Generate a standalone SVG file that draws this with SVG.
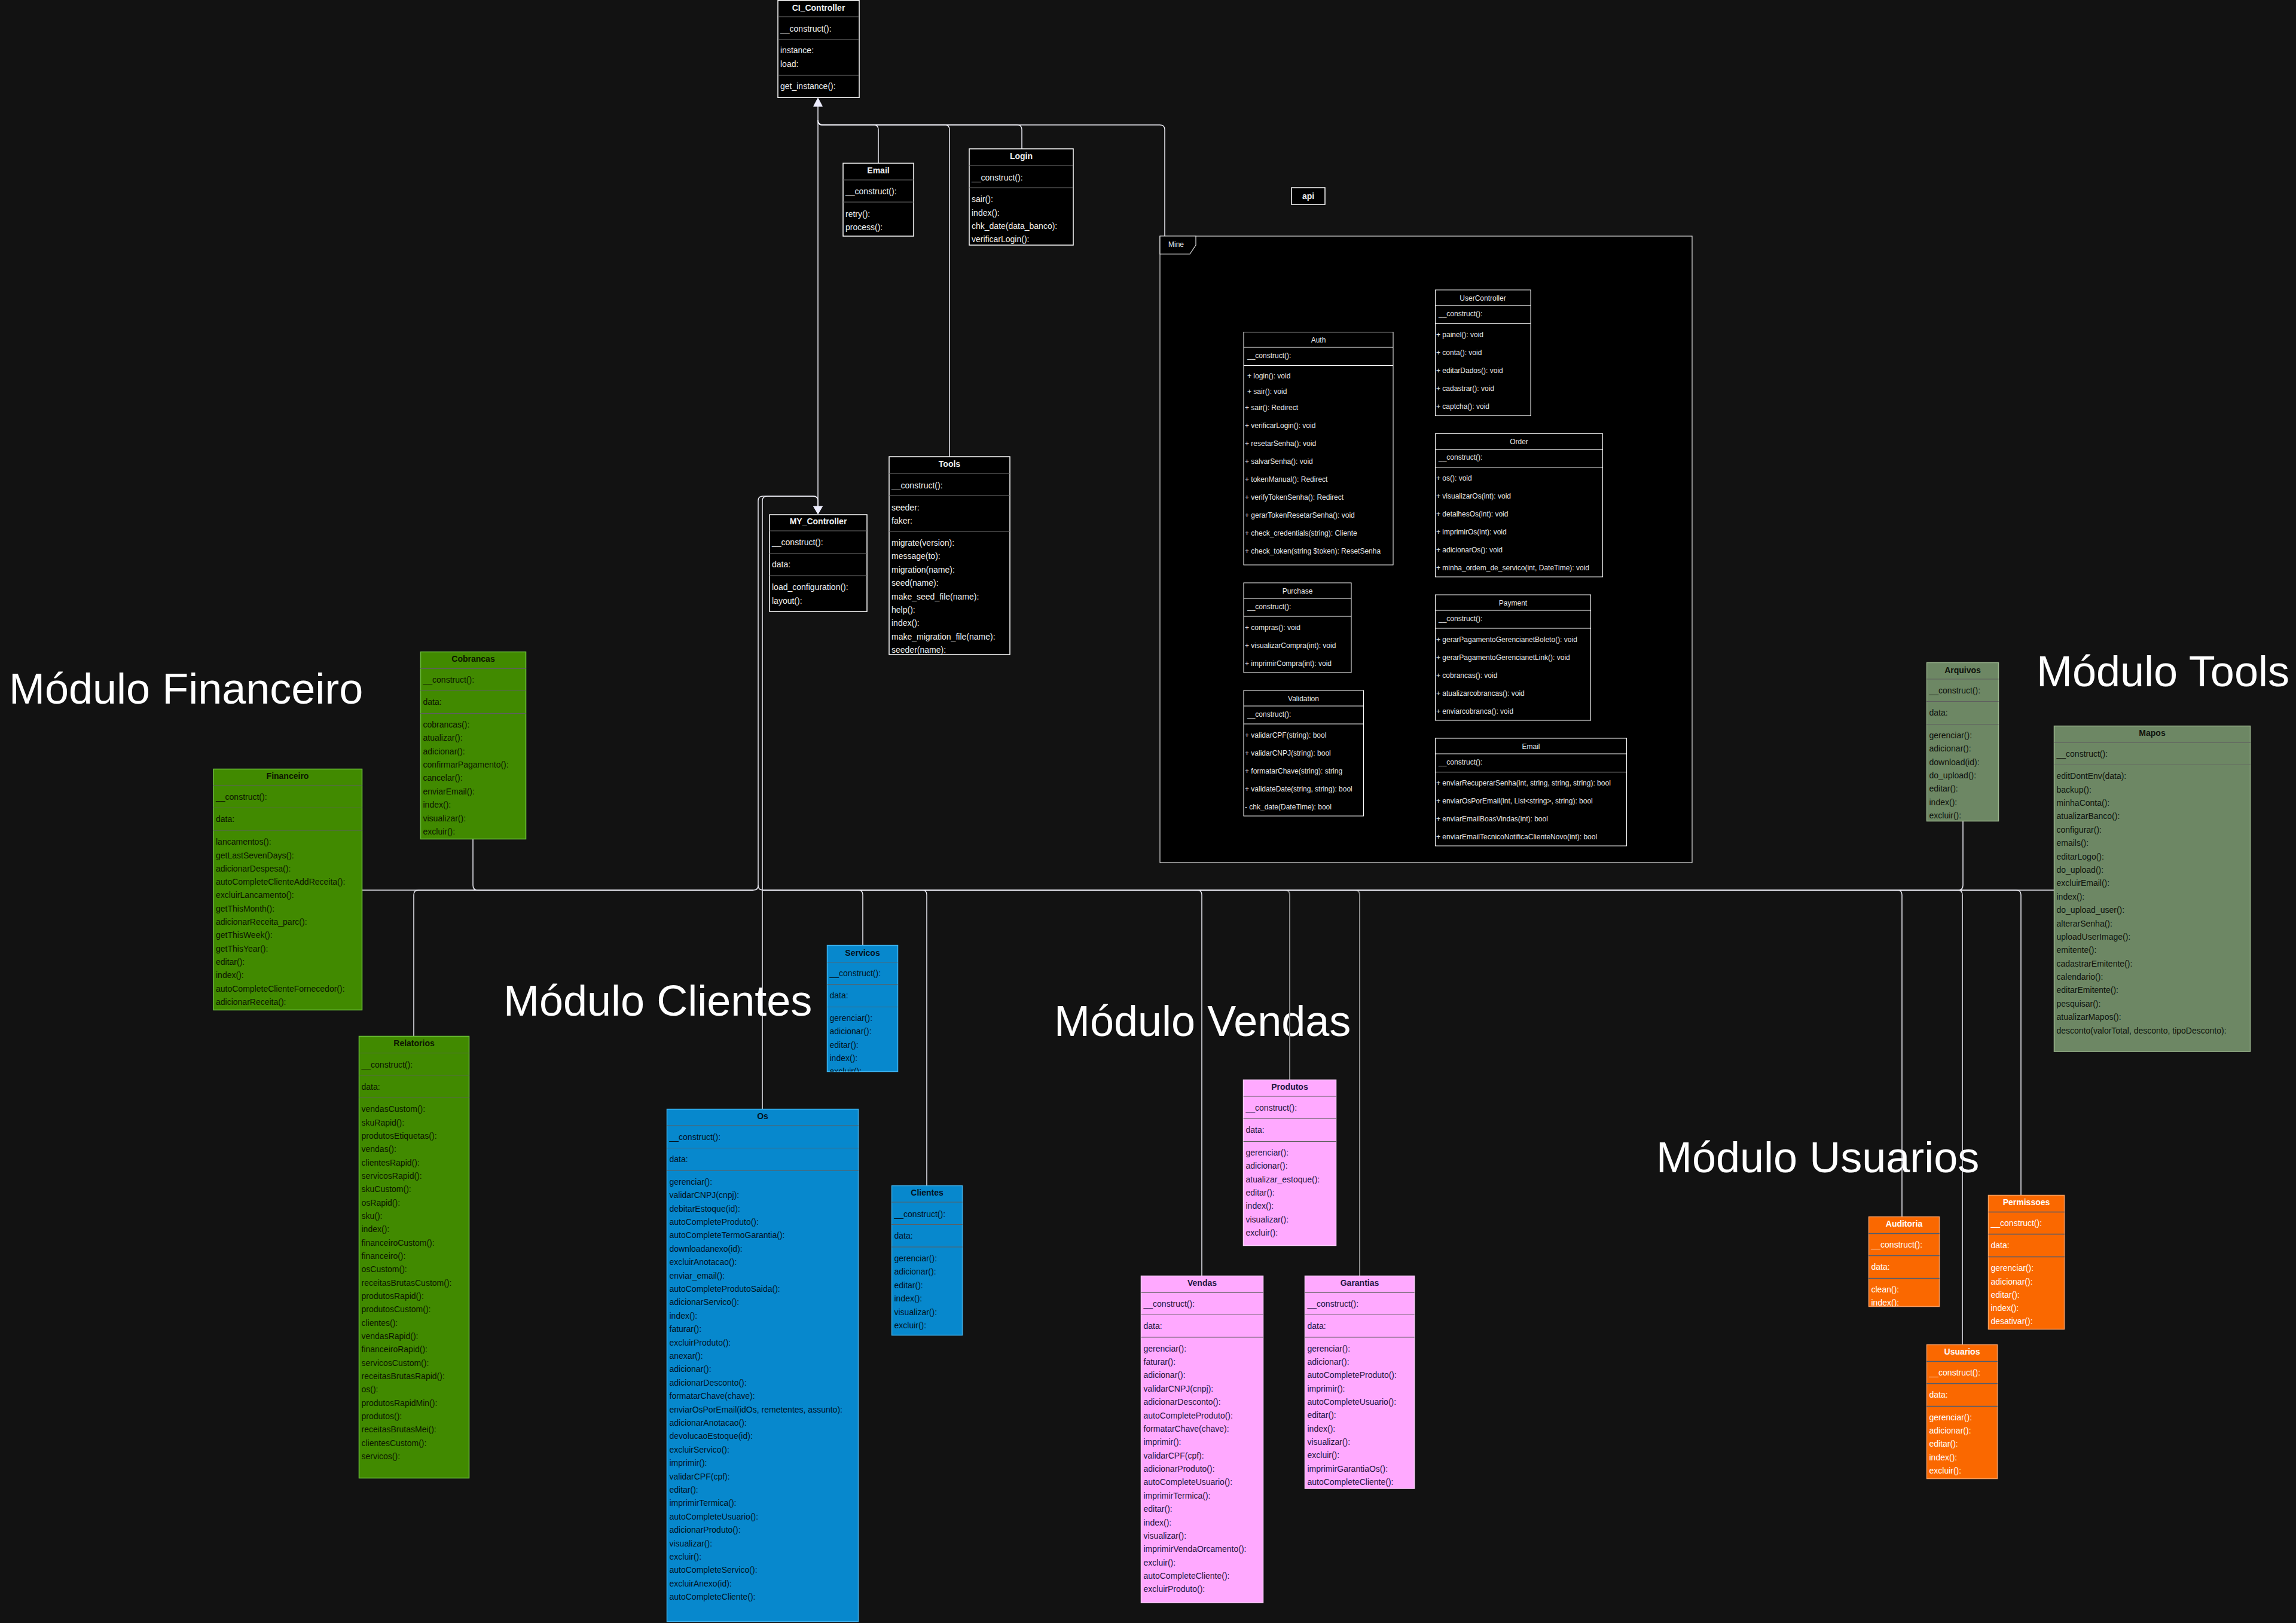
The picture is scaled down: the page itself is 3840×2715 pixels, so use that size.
<svg xmlns="http://www.w3.org/2000/svg" width="3840" height="2715" viewBox="0 0 3840 2715">
<style>
text{font-family:"Liberation Sans",Arial,sans-serif;dominant-baseline:central}
.t{font-size:14px;font-weight:bold;text-anchor:middle}
.m{font-size:14px}
.s{font-size:12px}
.st{font-size:12px;text-anchor:middle}
.mod{font-size:72px;fill:#ffffff;dominant-baseline:auto}
.dk rect{fill:#000;stroke:#fff;stroke-width:1.5}
.dk text{fill:#f0f0f0}
.dk line{stroke:#707070;stroke-width:1}
.mn rect{fill:#000;stroke:#fff;stroke-width:1}
.mn text{fill:#e8e8e8}
.mn line{stroke:#fff;stroke-width:1}
.fr>rect{fill:#000;stroke:#e0e0e0;stroke-width:1.2}
.fr path{fill:#000;stroke:#e0e0e0;stroke-width:1.2}
.fr text{fill:#e8e8e8}
.gr rect{fill:#418a00;stroke:#6ec13c;stroke-width:1.5}
.gr text{fill:#0c1500}
.bl rect{fill:#0788cd;stroke:#3db2ef;stroke-width:1.5}
.bl text{fill:#02121e}
.pk rect{fill:#ffa9ff;stroke:#ffd0ff;stroke-width:1.5}
.pk text{fill:#1c1440}
.sg rect{fill:#6d8764;stroke:#9ab58d;stroke-width:1.5}
.sg text{fill:#0e120c}
.or rect{fill:#fa6800;stroke:#ff9d5c;stroke-width:1.5}
.or text{fill:#ffffff}
.gr line,.bl line,.pk line,.sg line{stroke:#5f5f5f;stroke-width:1}
.or line{stroke:#4f5c70;stroke-width:1.5}
.cn path{fill:none;stroke:#ececf4;stroke-width:1.5}
.cn path.g{stroke:#8a8a8a;stroke-width:2}
.cn polygon{fill:#eeeeff;stroke:#eeeeff;stroke-width:1}
</style>
<defs>
<clipPath id="clipServ"><rect x="1383.5" y="1581.5" width="118" height="211"/></clipPath>
<clipPath id="clipAud"><rect x="3125.5" y="2035.5" width="118" height="150"/></clipPath>
</defs>
<rect width="3840" height="2715" fill="#121212"/>

<g id="module-titles">
<text class="mod" x="15" y="1177">Módulo Financeiro</text>
<text class="mod" x="842" y="1699">Módulo Clientes</text>
<text class="mod" x="1763" y="1733">Módulo Vendas</text>
<text class="mod" x="2770" y="1961">Módulo Usuarios</text>
<text class="mod" x="3406" y="1148">Módulo Tools</text>
</g>

<g id="connectors" class="cn">
<path class="g" d="M2157,1806 V1497 Q2157,1489 2149,1489 H1276"/>
<path class="g" d="M2274,2134 V1497 Q2274,1489 2266,1489 H1276"/>
<path d="M1368,847 V178"/>
<path d="M1469,273 V217 Q1469,209 1461,209 H1376 Q1368,209 1368,201"/>
<path d="M1588,764 V217 Q1588,209 1580,209 H1376 Q1368,209 1368,201"/>
<path d="M1709,249 V217 Q1709,209 1701,209 H1376 Q1368,209 1368,201"/>
<path d="M1948,395 V217 Q1948,209 1940,209 H1376 Q1368,209 1368,201"/>
<path d="M1275,1855 V838 Q1275,830 1283,830 H1360 Q1368,830 1368,838 V847"/>
<path d="M605,1489 H1260 Q1268,1489 1268,1481 V838 Q1268,830 1276,830 H1360 Q1368,830 1368,838 V847"/>
<path d="M791,1403 V1481 Q791,1489 799,1489 H1260"/>
<path d="M692,1733 V1497 Q692,1489 700,1489 H1260"/>
<path d="M1443,1581 V1497 Q1443,1489 1435,1489 H1276 Q1268,1489 1268,1481"/>
<path d="M1550,1983 V1497 Q1550,1489 1542,1489 H1276"/>
<path d="M2010,2134 V1497 Q2010,1489 2002,1489 H1276"/>
<path d="M3181,2035 V1497 Q3181,1489 3173,1489 H1276"/>
<path d="M3282,2249 V1497 Q3282,1489 3274,1489 H1276"/>
<path d="M3283,1374 V1481 Q3283,1489 3275,1489 H1276"/>
<path d="M3380,1999 V1497 Q3380,1489 3372,1489 H1276"/>
<path d="M3435,1489 H1276"/>
<polygon points="1368,164 1360.5,178 1375.5,178"/>
<polygon points="1368,860 1360.5,847 1375.5,847"/>
</g>

<g id="CI_Controller" class="dk">
<rect x="1301" y="0.75" width="136" height="162.5"/>
<text class="t" x="1369" y="12.5">CI_Controller</text>
<line x1="1301" y1="28" x2="1437" y2="28"/>
<text class="m" x="1305" y="48">__construct():</text>
<line x1="1301" y1="66" x2="1437" y2="66"/>
<text class="m" x="1305" y="84">instance:</text>
<text class="m" x="1305" y="107">load:</text>
<line x1="1301" y1="126" x2="1437" y2="126"/>
<text class="m" x="1305" y="144">get_instance():</text>
</g>

<g id="Email" class="dk">
<rect x="1410" y="273" width="118" height="122"/>
<text class="t" x="1469" y="285">Email</text>
<line x1="1410" y1="301" x2="1528" y2="301"/>
<text class="m" x="1414" y="320">__construct():</text>
<line x1="1410" y1="338" x2="1528" y2="338"/>
<text class="m" x="1414" y="358">retry():</text>
<text class="m" x="1414" y="380">process():</text>
</g>

<g id="Login" class="dk">
<rect x="1621" y="249" width="174" height="161"/>
<text class="t" x="1708" y="261">Login</text>
<line x1="1621" y1="277" x2="1795" y2="277"/>
<text class="m" x="1625" y="297">__construct():</text>
<line x1="1621" y1="314" x2="1795" y2="314"/>
<text class="m" x="1625" y="333">sair():</text>
<text class="m" x="1625" y="356">index():</text>
<text class="m" x="1625" y="378">chk_date(data_banco):</text>
<text class="m" x="1625" y="400">verificarLogin():</text>
</g>

<g id="MY_Controller" class="dk">
<rect x="1287" y="861" width="163" height="162"/>
<text class="t" x="1368.5" y="872">MY_Controller</text>
<line x1="1287" y1="888" x2="1450" y2="888"/>
<text class="m" x="1291" y="907">__construct():</text>
<line x1="1287" y1="926" x2="1450" y2="926"/>
<text class="m" x="1291" y="944">data:</text>
<line x1="1287" y1="963" x2="1450" y2="963"/>
<text class="m" x="1291" y="982">load_configuration():</text>
<text class="m" x="1291" y="1005">layout():</text>
</g>

<g id="Tools" class="dk">
<rect x="1487" y="764" width="202" height="331"/>
<text class="t" x="1588" y="776">Tools</text>
<line x1="1487" y1="792" x2="1689" y2="792"/>
<text class="m" x="1491" y="812">__construct():</text>
<line x1="1487" y1="829" x2="1689" y2="829"/>
<text class="m" x="1491" y="849">seeder:</text>
<text class="m" x="1491" y="871">faker:</text>
<line x1="1487" y1="889" x2="1689" y2="889"/>
<text class="m" x="1491" y="908">migrate(version):</text>
<text class="m" x="1491" y="930">message(to):</text>
<text class="m" x="1491" y="953">migration(name):</text>
<text class="m" x="1491" y="975">seed(name):</text>
<text class="m" x="1491" y="998">make_seed_file(name):</text>
<text class="m" x="1491" y="1020">help():</text>
<text class="m" x="1491" y="1042">index():</text>
<text class="m" x="1491" y="1065">make_migration_file(name):</text>
<text class="m" x="1491" y="1087">seeder(name):</text>
</g>

<g id="api" class="dk">
<rect x="2160" y="314" width="56" height="28"/>
<text class="t" x="2188" y="328">api</text>
</g>

<g id="Mine" class="fr">
<rect x="1940" y="395" width="890" height="1048"/>
<path d="M1940,395 H2000 V410 L1990,425 H1940 Z"/>
<text class="st" x="1967" y="409">Mine</text>
</g>

<g id="Auth" class="mn">
<rect x="2080" y="555.5" width="250" height="389.5"/>
<text class="st" x="2205" y="568.5">Auth</text>
<line x1="2080" y1="581" x2="2330" y2="581"/>
<text class="s" x="2086" y="595">__construct():</text>
<line x1="2080" y1="611.5" x2="2330" y2="611.5"/>
<text class="s" x="2086" y="629"> + login(): void</text>
<text class="s" x="2086" y="655"> + sair(): void</text>
<text class="s" x="2082" y="681.5">+ sair(): Redirect</text>
<text class="s" x="2082" y="712">+ verificarLogin(): void</text>
<text class="s" x="2082" y="741.5">+ resetarSenha(): void</text>
<text class="s" x="2082" y="772">+ salvarSenha(): void</text>
<text class="s" x="2082" y="801.5">+ tokenManual(): Redirect</text>
<text class="s" x="2082" y="832">+ verifyTokenSenha(): Redirect</text>
<text class="s" x="2082" y="861.5">+ gerarTokenResetarSenha(): void</text>
<text class="s" x="2082" y="892">+ check_credentials(string): Cliente</text>
<text class="s" x="2082" y="922">+ check_token(string $token): ResetSenha</text>
</g>

<g id="UserController" class="mn">
<rect x="2400.5" y="485" width="159.5" height="210.5"/>
<text class="st" x="2480" y="499">UserController</text>
<line x1="2400.5" y1="511.5" x2="2560" y2="511.5"/>
<text class="s" x="2406" y="525">__construct():</text>
<line x1="2400.5" y1="541.5" x2="2560" y2="541.5"/>
<text class="s" x="2402" y="560">+ painel(): void</text>
<text class="s" x="2402" y="590">+ conta(): void</text>
<text class="s" x="2402" y="620">+ editarDados(): void</text>
<text class="s" x="2402" y="650">+ cadastrar(): void</text>
<text class="s" x="2402" y="680">+ captcha(): void</text>
</g>

<g id="Order" class="mn">
<rect x="2400.5" y="725.5" width="280" height="239.5"/>
<text class="st" x="2540.5" y="739">Order</text>
<line x1="2400.5" y1="751.5" x2="2680.5" y2="751.5"/>
<text class="s" x="2406" y="765">__construct():</text>
<line x1="2400.5" y1="781.5" x2="2680.5" y2="781.5"/>
<text class="s" x="2402" y="800">+ os(): void</text>
<text class="s" x="2402" y="830">+ visualizarOs(int): void</text>
<text class="s" x="2402" y="860">+ detalhesOs(int): void</text>
<text class="s" x="2402" y="890">+ imprimirOs(int): void</text>
<text class="s" x="2402" y="920">+ adicionarOs(): void</text>
<text class="s" x="2402" y="950">+ minha_ordem_de_servico(int, DateTime): void</text>
</g>

<g id="Purchase" class="mn">
<rect x="2080" y="975" width="180" height="150"/>
<text class="st" x="2170" y="989">Purchase</text>
<line x1="2080" y1="1001" x2="2260" y2="1001"/>
<text class="s" x="2086" y="1015">__construct():</text>
<line x1="2080" y1="1031" x2="2260" y2="1031"/>
<text class="s" x="2082" y="1050">+ compras(): void</text>
<text class="s" x="2082" y="1080">+ visualizarCompra(int): void</text>
<text class="s" x="2082" y="1110">+ imprimirCompra(int): void</text>
</g>

<g id="Validation" class="mn">
<rect x="2080" y="1155" width="200.5" height="210"/>
<text class="st" x="2180" y="1169">Validation</text>
<line x1="2080" y1="1181" x2="2280.5" y2="1181"/>
<text class="s" x="2086" y="1195">__construct():</text>
<line x1="2080" y1="1211" x2="2280.5" y2="1211"/>
<text class="s" x="2082" y="1230">+ validarCPF(string): bool</text>
<text class="s" x="2082" y="1260">+ validarCNPJ(string): bool</text>
<text class="s" x="2082" y="1290">+ formatarChave(string): string</text>
<text class="s" x="2082" y="1320">+ validateDate(string, string): bool</text>
<text class="s" x="2082" y="1350">- chk_date(DateTime): bool</text>
</g>

<g id="Payment" class="mn">
<rect x="2400.5" y="995" width="260" height="210"/>
<text class="st" x="2530.5" y="1009">Payment</text>
<line x1="2400.5" y1="1021" x2="2660.5" y2="1021"/>
<text class="s" x="2406" y="1035">__construct():</text>
<line x1="2400.5" y1="1051" x2="2660.5" y2="1051"/>
<text class="s" x="2402" y="1070">+ gerarPagamentoGerencianetBoleto(): void</text>
<text class="s" x="2402" y="1100">+ gerarPagamentoGerencianetLink(): void</text>
<text class="s" x="2402" y="1130">+ cobrancas(): void</text>
<text class="s" x="2402" y="1160">+ atualizarcobrancas(): void</text>
<text class="s" x="2402" y="1190">+ enviarcobranca(): void</text>
</g>

<g id="EmailMine" class="mn">
<rect x="2400.5" y="1235" width="320" height="180"/>
<text class="st" x="2560.5" y="1249">Email</text>
<line x1="2400.5" y1="1261" x2="2720.5" y2="1261"/>
<text class="s" x="2406" y="1275">__construct():</text>
<line x1="2400.5" y1="1291.5" x2="2720.5" y2="1291.5"/>
<text class="s" x="2402" y="1310">+ enviarRecuperarSenha(int, string, string, string): bool</text>
<text class="s" x="2402" y="1340">+ enviarOsPorEmail(int, List&lt;string&gt;, string): bool</text>
<text class="s" x="2402" y="1370">+ enviarEmailBoasVindas(int): bool</text>
<text class="s" x="2402" y="1400">+ enviarEmailTecnicoNotificaClienteNovo(int): bool</text>
</g>

<g id="Cobrancas" class="gr">
<rect x="703.5" y="1090.5" width="176" height="313"/>
<text class="t" x="791.5" y="1102">Cobrancas</text>
<line x1="703.5" y1="1118.5" x2="879.5" y2="1118.5"/>
<text class="m" x="707.5" y="1137">__construct():</text>
<line x1="703.5" y1="1155" x2="879.5" y2="1155"/>
<text class="m" x="707.5" y="1174">data:</text>
<line x1="703.5" y1="1193.5" x2="879.5" y2="1193.5"/>
<text class="m" x="707.5" y="1211.7">cobrancas():</text>
<text class="m" x="707.5" y="1234.1">atualizar():</text>
<text class="m" x="707.5" y="1256.5">adicionar():</text>
<text class="m" x="707.5" y="1278.9">confirmarPagamento():</text>
<text class="m" x="707.5" y="1301.3">cancelar():</text>
<text class="m" x="707.5" y="1323.7">enviarEmail():</text>
<text class="m" x="707.5" y="1346.1">index():</text>
<text class="m" x="707.5" y="1368.5">visualizar():</text>
<text class="m" x="707.5" y="1390.9">excluir():</text>
</g>

<g id="Financeiro" class="gr">
<rect x="357" y="1286.5" width="248.5" height="403"/>
<text class="t" x="481" y="1298">Financeiro</text>
<line x1="357" y1="1314.5" x2="605.5" y2="1314.5"/>
<text class="m" x="361" y="1333">__construct():</text>
<line x1="357" y1="1351.5" x2="605.5" y2="1351.5"/>
<text class="m" x="361" y="1370">data:</text>
<line x1="357" y1="1389" x2="605.5" y2="1389"/>
<text class="m" x="361" y="1408.2">lancamentos():</text>
<text class="m" x="361" y="1430.5">getLastSevenDays():</text>
<text class="m" x="361" y="1452.8">adicionarDespesa():</text>
<text class="m" x="361" y="1475.1">autoCompleteClienteAddReceita():</text>
<text class="m" x="361" y="1497.4">excluirLancamento():</text>
<text class="m" x="361" y="1519.7">getThisMonth():</text>
<text class="m" x="361" y="1542">adicionarReceita_parc():</text>
<text class="m" x="361" y="1564.3">getThisWeek():</text>
<text class="m" x="361" y="1586.6">getThisYear():</text>
<text class="m" x="361" y="1608.9">editar():</text>
<text class="m" x="361" y="1631.2">index():</text>
<text class="m" x="361" y="1653.5">autoCompleteClienteFornecedor():</text>
<text class="m" x="361" y="1675.8">adicionarReceita():</text>
</g>

<g id="Relatorios" class="gr">
<rect x="600.5" y="1733.5" width="184" height="739"/>
<text class="t" x="692.5" y="1745">Relatorios</text>
<line x1="600.5" y1="1761.5" x2="784.5" y2="1761.5"/>
<text class="m" x="604.5" y="1780.5">__construct():</text>
<line x1="600.5" y1="1798.5" x2="784.5" y2="1798.5"/>
<text class="m" x="604.5" y="1817.5">data:</text>
<line x1="600.5" y1="1836.5" x2="784.5" y2="1836.5"/>
<text class="m" x="604.5" y="1855.2">vendasCustom():</text>
<text class="m" x="604.5" y="1877.5">skuRapid():</text>
<text class="m" x="604.5" y="1899.9">produtosEtiquetas():</text>
<text class="m" x="604.5" y="1922.2">vendas():</text>
<text class="m" x="604.5" y="1944.6">clientesRapid():</text>
<text class="m" x="604.5" y="1966.9">servicosRapid():</text>
<text class="m" x="604.5" y="1989.2">skuCustom():</text>
<text class="m" x="604.5" y="2011.6">osRapid():</text>
<text class="m" x="604.5" y="2033.9">sku():</text>
<text class="m" x="604.5" y="2056.3">index():</text>
<text class="m" x="604.5" y="2078.6">financeiroCustom():</text>
<text class="m" x="604.5" y="2100.9">financeiro():</text>
<text class="m" x="604.5" y="2123.3">osCustom():</text>
<text class="m" x="604.5" y="2145.6">receitasBrutasCustom():</text>
<text class="m" x="604.5" y="2168">produtosRapid():</text>
<text class="m" x="604.5" y="2190.3">produtosCustom():</text>
<text class="m" x="604.5" y="2212.6">clientes():</text>
<text class="m" x="604.5" y="2235">vendasRapid():</text>
<text class="m" x="604.5" y="2257.3">financeiroRapid():</text>
<text class="m" x="604.5" y="2279.7">servicosCustom():</text>
<text class="m" x="604.5" y="2302">receitasBrutasRapid():</text>
<text class="m" x="604.5" y="2324.3">os():</text>
<text class="m" x="604.5" y="2346.7">produtosRapidMin():</text>
<text class="m" x="604.5" y="2369">produtos():</text>
<text class="m" x="604.5" y="2391.4">receitasBrutasMei():</text>
<text class="m" x="604.5" y="2413.7">clientesCustom():</text>
<text class="m" x="604.5" y="2436">servicos():</text>
</g>

<g id="Os" class="bl">
<rect x="1115.5" y="1855.5" width="320" height="857"/>
<text class="t" x="1275.5" y="1867">Os</text>
<line x1="1115.5" y1="1883" x2="1435.5" y2="1883"/>
<text class="m" x="1119.5" y="1902">__construct():</text>
<line x1="1115.5" y1="1920.5" x2="1435.5" y2="1920.5"/>
<text class="m" x="1119.5" y="1939">data:</text>
<line x1="1115.5" y1="1958.5" x2="1435.5" y2="1958.5"/>
<text class="m" x="1119.5" y="1976.7">gerenciar():</text>
<text class="m" x="1119.5" y="1999.1">validarCNPJ(cnpj):</text>
<text class="m" x="1119.5" y="2021.5">debitarEstoque(id):</text>
<text class="m" x="1119.5" y="2043.9">autoCompleteProduto():</text>
<text class="m" x="1119.5" y="2066.3">autoCompleteTermoGarantia():</text>
<text class="m" x="1119.5" y="2088.7">downloadanexo(id):</text>
<text class="m" x="1119.5" y="2111.1">excluirAnotacao():</text>
<text class="m" x="1119.5" y="2133.5">enviar_email():</text>
<text class="m" x="1119.5" y="2155.9">autoCompleteProdutoSaida():</text>
<text class="m" x="1119.5" y="2178.3">adicionarServico():</text>
<text class="m" x="1119.5" y="2200.7">index():</text>
<text class="m" x="1119.5" y="2223.1">faturar():</text>
<text class="m" x="1119.5" y="2245.5">excluirProduto():</text>
<text class="m" x="1119.5" y="2267.9">anexar():</text>
<text class="m" x="1119.5" y="2290.3">adicionar():</text>
<text class="m" x="1119.5" y="2312.7">adicionarDesconto():</text>
<text class="m" x="1119.5" y="2335.1">formatarChave(chave):</text>
<text class="m" x="1119.5" y="2357.5">enviarOsPorEmail(idOs, remetentes, assunto):</text>
<text class="m" x="1119.5" y="2379.9">adicionarAnotacao():</text>
<text class="m" x="1119.5" y="2402.3">devolucaoEstoque(id):</text>
<text class="m" x="1119.5" y="2424.7">excluirServico():</text>
<text class="m" x="1119.5" y="2447.1">imprimir():</text>
<text class="m" x="1119.5" y="2469.5">validarCPF(cpf):</text>
<text class="m" x="1119.5" y="2491.9">editar():</text>
<text class="m" x="1119.5" y="2514.3">imprimirTermica():</text>
<text class="m" x="1119.5" y="2536.7">autoCompleteUsuario():</text>
<text class="m" x="1119.5" y="2559.1">adicionarProduto():</text>
<text class="m" x="1119.5" y="2581.5">visualizar():</text>
<text class="m" x="1119.5" y="2603.9">excluir():</text>
<text class="m" x="1119.5" y="2626.3">autoCompleteServico():</text>
<text class="m" x="1119.5" y="2648.7">excluirAnexo(id):</text>
<text class="m" x="1119.5" y="2671.1">autoCompleteCliente():</text>
</g>

<g id="Servicos" class="bl">
<rect x="1383.5" y="1581.5" width="118" height="211"/>
<text class="t" x="1442.5" y="1593.5">Servicos</text>
<line x1="1383.5" y1="1609.5" x2="1501.5" y2="1609.5"/>
<text class="m" x="1387.5" y="1628">__construct():</text>
<line x1="1383.5" y1="1646.5" x2="1501.5" y2="1646.5"/>
<text class="m" x="1387.5" y="1665">data:</text>
<line x1="1383.5" y1="1684.5" x2="1501.5" y2="1684.5"/>
<g clip-path="url(#clipServ)">
<text class="m" x="1387.5" y="1703.3">gerenciar():</text>
<text class="m" x="1387.5" y="1725.4">adicionar():</text>
<text class="m" x="1387.5" y="1747.5">editar():</text>
<text class="m" x="1387.5" y="1769.6">index():</text>
<text class="m" x="1387.5" y="1791.7">excluir():</text>
</g>
</g>

<g id="Clientes" class="bl">
<rect x="1491.5" y="1983.5" width="118" height="250"/>
<text class="t" x="1550.5" y="1995">Clientes</text>
<line x1="1491.5" y1="2011" x2="1609.5" y2="2011"/>
<text class="m" x="1495.5" y="2030.5">__construct():</text>
<line x1="1491.5" y1="2048.5" x2="1609.5" y2="2048.5"/>
<text class="m" x="1495.5" y="2067">data:</text>
<line x1="1491.5" y1="2086" x2="1609.5" y2="2086"/>
<text class="m" x="1495.5" y="2105">gerenciar():</text>
<text class="m" x="1495.5" y="2127.4">adicionar():</text>
<text class="m" x="1495.5" y="2149.8">editar():</text>
<text class="m" x="1495.5" y="2172.2">index():</text>
<text class="m" x="1495.5" y="2194.6">visualizar():</text>
<text class="m" x="1495.5" y="2217">excluir():</text>
</g>

<g id="Produtos" class="pk">
<rect x="2079.5" y="1806.5" width="155" height="277"/>
<text class="t" x="2157" y="1817.5">Produtos</text>
<line x1="2079.5" y1="1834" x2="2234.5" y2="1834"/>
<text class="m" x="2083.5" y="1852.5">__construct():</text>
<line x1="2079.5" y1="1871.5" x2="2234.5" y2="1871.5"/>
<text class="m" x="2083.5" y="1890">data:</text>
<line x1="2079.5" y1="1909.5" x2="2234.5" y2="1909.5"/>
<text class="m" x="2083.5" y="1927.8">gerenciar():</text>
<text class="m" x="2083.5" y="1950.2">adicionar():</text>
<text class="m" x="2083.5" y="1972.6">atualizar_estoque():</text>
<text class="m" x="2083.5" y="1995">editar():</text>
<text class="m" x="2083.5" y="2017.4">index():</text>
<text class="m" x="2083.5" y="2039.8">visualizar():</text>
<text class="m" x="2083.5" y="2062.2">excluir():</text>
</g>

<g id="Vendas" class="pk">
<rect x="1908.5" y="2134.5" width="204" height="546.5"/>
<text class="t" x="2010.5" y="2146">Vendas</text>
<line x1="1908.5" y1="2162.5" x2="2112.5" y2="2162.5"/>
<text class="m" x="1912.5" y="2181">__construct():</text>
<line x1="1908.5" y1="2199.5" x2="2112.5" y2="2199.5"/>
<text class="m" x="1912.5" y="2217.7">data:</text>
<line x1="1908.5" y1="2237" x2="2112.5" y2="2237"/>
<text class="m" x="1912.5" y="2255.6">gerenciar():</text>
<text class="m" x="1912.5" y="2278">faturar():</text>
<text class="m" x="1912.5" y="2300.4">adicionar():</text>
<text class="m" x="1912.5" y="2322.7">validarCNPJ(cnpj):</text>
<text class="m" x="1912.5" y="2345.1">adicionarDesconto():</text>
<text class="m" x="1912.5" y="2367.5">autoCompleteProduto():</text>
<text class="m" x="1912.5" y="2389.9">formatarChave(chave):</text>
<text class="m" x="1912.5" y="2412.3">imprimir():</text>
<text class="m" x="1912.5" y="2434.6">validarCPF(cpf):</text>
<text class="m" x="1912.5" y="2457">adicionarProduto():</text>
<text class="m" x="1912.5" y="2479.4">autoCompleteUsuario():</text>
<text class="m" x="1912.5" y="2501.8">imprimirTermica():</text>
<text class="m" x="1912.5" y="2524.2">editar():</text>
<text class="m" x="1912.5" y="2546.5">index():</text>
<text class="m" x="1912.5" y="2568.9">visualizar():</text>
<text class="m" x="1912.5" y="2591.3">imprimirVendaOrcamento():</text>
<text class="m" x="1912.5" y="2613.7">excluir():</text>
<text class="m" x="1912.5" y="2636.1">autoCompleteCliente():</text>
<text class="m" x="1912.5" y="2658.4">excluirProduto():</text>
</g>

<g id="Garantias" class="pk">
<rect x="2182.5" y="2134.5" width="183" height="355.5"/>
<text class="t" x="2274" y="2146">Garantias</text>
<line x1="2182.5" y1="2162.5" x2="2365.5" y2="2162.5"/>
<text class="m" x="2186.5" y="2181">__construct():</text>
<line x1="2182.5" y1="2199.5" x2="2365.5" y2="2199.5"/>
<text class="m" x="2186.5" y="2217.7">data:</text>
<line x1="2182.5" y1="2237" x2="2365.5" y2="2237"/>
<text class="m" x="2186.5" y="2255.6">gerenciar():</text>
<text class="m" x="2186.5" y="2277.9">adicionar():</text>
<text class="m" x="2186.5" y="2300.3">autoCompleteProduto():</text>
<text class="m" x="2186.5" y="2322.6">imprimir():</text>
<text class="m" x="2186.5" y="2344.9">autoCompleteUsuario():</text>
<text class="m" x="2186.5" y="2367.3">editar():</text>
<text class="m" x="2186.5" y="2389.6">index():</text>
<text class="m" x="2186.5" y="2411.9">visualizar():</text>
<text class="m" x="2186.5" y="2434.2">excluir():</text>
<text class="m" x="2186.5" y="2456.6">imprimirGarantiaOs():</text>
<text class="m" x="2186.5" y="2478.9">autoCompleteCliente():</text>
</g>

<g id="Arquivos" class="sg">
<rect x="3222.5" y="1108.5" width="120" height="265"/>
<text class="t" x="3282.5" y="1120.5">Arquivos</text>
<line x1="3222.5" y1="1136" x2="3342.5" y2="1136"/>
<text class="m" x="3226.5" y="1155">__construct():</text>
<line x1="3222.5" y1="1173.5" x2="3342.5" y2="1173.5"/>
<text class="m" x="3226.5" y="1192.3">data:</text>
<line x1="3222.5" y1="1211.5" x2="3342.5" y2="1211.5"/>
<text class="m" x="3226.5" y="1230">gerenciar():</text>
<text class="m" x="3226.5" y="1252.3">adicionar():</text>
<text class="m" x="3226.5" y="1274.7">download(id):</text>
<text class="m" x="3226.5" y="1297">do_upload():</text>
<text class="m" x="3226.5" y="1319.3">editar():</text>
<text class="m" x="3226.5" y="1341.7">index():</text>
<text class="m" x="3226.5" y="1364">excluir():</text>
</g>

<g id="Mapos" class="sg">
<rect x="3435.5" y="1214.5" width="328" height="544.5"/>
<text class="t" x="3599.5" y="1226">Mapos</text>
<line x1="3435.5" y1="1242.5" x2="3763.5" y2="1242.5"/>
<text class="m" x="3439.5" y="1261.3">__construct():</text>
<line x1="3435.5" y1="1279.5" x2="3763.5" y2="1279.5"/>
<text class="m" x="3439.5" y="1298.2">editDontEnv(data):</text>
<text class="m" x="3439.5" y="1320.6">backup():</text>
<text class="m" x="3439.5" y="1343">minhaConta():</text>
<text class="m" x="3439.5" y="1365.4">atualizarBanco():</text>
<text class="m" x="3439.5" y="1387.8">configurar():</text>
<text class="m" x="3439.5" y="1410.2">emails():</text>
<text class="m" x="3439.5" y="1432.5">editarLogo():</text>
<text class="m" x="3439.5" y="1454.9">do_upload():</text>
<text class="m" x="3439.5" y="1477.3">excluirEmail():</text>
<text class="m" x="3439.5" y="1499.7">index():</text>
<text class="m" x="3439.5" y="1522.1">do_upload_user():</text>
<text class="m" x="3439.5" y="1544.5">alterarSenha():</text>
<text class="m" x="3439.5" y="1566.9">uploadUserImage():</text>
<text class="m" x="3439.5" y="1589.3">emitente():</text>
<text class="m" x="3439.5" y="1611.7">cadastrarEmitente():</text>
<text class="m" x="3439.5" y="1634.1">calendario():</text>
<text class="m" x="3439.5" y="1656.4">editarEmitente():</text>
<text class="m" x="3439.5" y="1678.8">pesquisar():</text>
<text class="m" x="3439.5" y="1701.2">atualizarMapos():</text>
<text class="m" x="3439.5" y="1723.6">desconto(valorTotal, desconto, tipoDesconto):</text>
</g>

<g id="Auditoria" class="or">
<rect x="3125.5" y="2035.5" width="118" height="150"/>
<text class="t" x="3184.5" y="2047">Auditoria</text>
<line x1="3125.5" y1="2063.5" x2="3243.5" y2="2063.5"/>
<text class="m" x="3129.5" y="2082.3">__construct():</text>
<line x1="3125.5" y1="2100.5" x2="3243.5" y2="2100.5"/>
<text class="m" x="3129.5" y="2119">data:</text>
<line x1="3125.5" y1="2138.5" x2="3243.5" y2="2138.5"/>
<g clip-path="url(#clipAud)">
<text class="m" x="3129.5" y="2157">clean():</text>
<text class="m" x="3129.5" y="2179">index():</text>
</g>
</g>

<g id="Permissoes" class="or">
<rect x="3325.5" y="1999.5" width="127" height="224"/>
<text class="t" x="3389" y="2011">Permissoes</text>
<line x1="3325.5" y1="2027.5" x2="3452.5" y2="2027.5"/>
<text class="m" x="3329.5" y="2046.3">__construct():</text>
<line x1="3325.5" y1="2064.5" x2="3452.5" y2="2064.5"/>
<text class="m" x="3329.5" y="2083.3">data:</text>
<line x1="3325.5" y1="2102.5" x2="3452.5" y2="2102.5"/>
<text class="m" x="3329.5" y="2121.3">gerenciar():</text>
<text class="m" x="3329.5" y="2143.5">adicionar():</text>
<text class="m" x="3329.5" y="2165.7">editar():</text>
<text class="m" x="3329.5" y="2187.9">index():</text>
<text class="m" x="3329.5" y="2210">desativar():</text>
</g>

<g id="Usuarios" class="or">
<rect x="3222.5" y="2249.5" width="118" height="224"/>
<text class="t" x="3281.5" y="2261">Usuarios</text>
<line x1="3222.5" y1="2277.5" x2="3340.5" y2="2277.5"/>
<text class="m" x="3226.5" y="2296">__construct():</text>
<line x1="3222.5" y1="2314.5" x2="3340.5" y2="2314.5"/>
<text class="m" x="3226.5" y="2333">data:</text>
<line x1="3222.5" y1="2352.5" x2="3340.5" y2="2352.5"/>
<text class="m" x="3226.5" y="2371">gerenciar():</text>
<text class="m" x="3226.5" y="2393.2">adicionar():</text>
<text class="m" x="3226.5" y="2415.4">editar():</text>
<text class="m" x="3226.5" y="2437.6">index():</text>
<text class="m" x="3226.5" y="2459.8">excluir():</text>
</g>
</svg>
